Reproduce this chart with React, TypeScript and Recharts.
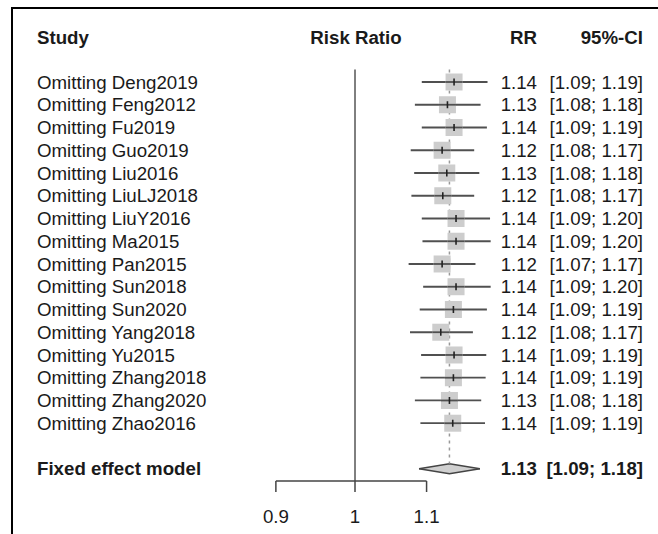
import { Area, ComposedChart, ErrorBar, ReferenceLine, Scatter, XAxis, YAxis } from "recharts";

const studies = [
  "Omitting Deng2019",
  "Omitting Feng2012",
  "Omitting Fu2019",
  "Omitting Guo2019",
  "Omitting Liu2016",
  "Omitting LiuLJ2018",
  "Omitting LiuY2016",
  "Omitting Ma2015",
  "Omitting Pan2015",
  "Omitting Sun2018",
  "Omitting Sun2020",
  "Omitting Yang2018",
  "Omitting Yu2015",
  "Omitting Zhang2018",
  "Omitting Zhang2020",
  "Omitting Zhao2016",
];
const rr = [1.141, 1.131, 1.141, 1.123, 1.13, 1.124, 1.144, 1.144, 1.123, 1.144, 1.14, 1.121, 1.141, 1.14, 1.134, 1.139];
const lower = [1.093, 1.083, 1.093, 1.077, 1.082, 1.078, 1.093, 1.094, 1.074, 1.095, 1.09, 1.076, 1.092, 1.091, 1.083, 1.091];
const upper = [1.193, 1.182, 1.192, 1.172, 1.18, 1.172, 1.197, 1.198, 1.174, 1.198, 1.192, 1.17, 1.191, 1.19, 1.183, 1.189];

const pooledLabel = "Fixed effect model";
const pooledRR = 1.134;
const pooledLower = 1.089;
const pooledUpper = 1.181;

const xTicks = [0.9, 1, 1.1];
const headers = { study: "Study", axis: "Risk Ratio", rr: "RR", ci: "95%-CI" };

// layout
const W = 658;
const H = 534;
const Y_MAX = 18.54;
const POOLED_ROW = studies.length + 2;
const DIAMOND_H = 0.22;
const REF_TOP = 0.45;
const SQ = 17;
const LABEL_X = 37;
const RR_X = 537;
const CI_X = 643;
const FONT = 18.7;
const TEXT = "#1a1a1a";
const CI_COLOR = "#505050";

const fmt = (v: number) => v.toFixed(2);

const rows = studies.map((study, i) => ({
  study,
  x: rr[i],
  y: i + 1,
  lo: lower[i],
  hi: upper[i],
  err: [rr[i] - lower[i], upper[i] - rr[i]],
}));

const pooledRow = [{ study: pooledLabel, x: pooledRR, y: POOLED_ROW, lo: pooledLower, hi: pooledUpper }];

const diamond = [
  { x: pooledLower, band: [POOLED_ROW, POOLED_ROW] },
  { x: pooledRR, band: [POOLED_ROW - DIAMOND_H, POOLED_ROW + DIAMOND_H] },
  { x: pooledUpper, band: [POOLED_ROW, POOLED_ROW] },
];

const Square = (p: any) => (
  <rect x={p.cx - SQ / 2} y={p.cy - SQ / 2} width={SQ} height={SQ} fill="#cdcdcd" />
);

const RowText = ({ cy, payload, bold }: any) => (
  <g fontSize={FONT} fill={TEXT} fontWeight={bold ? "bold" : "normal"}>
    <text x={LABEL_X} y={cy} dy="0.35em">{payload.study}</text>
    <text x={RR_X} y={cy} dy="0.35em" textAnchor="end">{fmt(payload.x)}</text>
    <text x={CI_X} y={cy} dy="0.35em" textAnchor="end">{`[${fmt(payload.lo)}; ${fmt(payload.hi)}]`}</text>
  </g>
);

// the CI line runs through the square, with a short dark tick at the estimate
const Estimate = (p: any) => (
  <g>
    <line x1={p.cx - SQ / 2} x2={p.cx + SQ / 2} y1={p.cy} y2={p.cy} stroke={CI_COLOR} strokeWidth={1.8} />
    <line x1={p.cx} x2={p.cx} y1={p.cy - 3.5} y2={p.cy + 3.5} stroke="#222" strokeWidth={1.6} />
    <RowText cy={p.cy} payload={p.payload} />
  </g>
);

const PooledText = (p: any) => <RowText cy={p.cy} payload={p.payload} bold />;

export default function App() {
  return (
    <div style={{ position: "absolute", left: 0, top: 0, width: W, height: H, overflow: "hidden", background: "#fff" }}>
      <div
        style={{
          position: "absolute",
          left: 11,
          top: 7,
          width: W - 11,
          height: H - 7,
          borderLeft: "2px solid #000",
          borderTop: "2px solid #000",
          boxSizing: "border-box",
        }}
      />
      <ComposedChart
        width={W}
        height={H}
        margin={{ top: 59.25, right: 135.42, bottom: 0, left: 232.95 }}
        style={{ fontFamily: "'Liberation Sans', Arial, sans-serif", position: "absolute", left: 0, top: 0 }}
      >
        <XAxis
          type="number"
          dataKey="x"
          scale="log"
          domain={[0.85, 1.25]}
          ticks={xTicks}
          height={53}
          axisLine={false}
          tickLine={{ stroke: "#444", strokeWidth: 1.5 }}
          tickSize={11}
          tickMargin={18}
          tick={{ fontSize: FONT, fill: TEXT }}
        />
        <YAxis type="number" dataKey="y" domain={[0, Y_MAX]} reversed hide width={0} />
        <ReferenceLine
          segment={[{ x: pooledRR, y: REF_TOP }, { x: pooledRR, y: POOLED_ROW - DIAMOND_H }]}
          stroke="#999"
          strokeWidth={1.5}
          strokeDasharray="3 4"
        />
        <ReferenceLine segment={[{ x: 1, y: REF_TOP }, { x: 1, y: Y_MAX }]} stroke="#000" strokeWidth={1} />
        <ReferenceLine
          segment={[{ x: xTicks[0], y: Y_MAX }, { x: xTicks[xTicks.length - 1], y: Y_MAX }]}
          stroke="#444"
          strokeWidth={1.5}
        />
        <Scatter data={rows} shape={Square} isAnimationActive={false} />
        <Scatter data={rows} shape={Estimate} isAnimationActive={false}>
          <ErrorBar dataKey="err" direction="x" width={0} stroke={CI_COLOR} strokeWidth={1.8} />
        </Scatter>
        <Area
          data={diamond}
          dataKey="band"
          type="linear"
          fill="#d0d0d0"
          fillOpacity={1}
          stroke="#444"
          strokeWidth={1.5}
          dot={false}
          activeDot={false}
          isAnimationActive={false}
        />
        <Scatter data={pooledRow} shape={PooledText} isAnimationActive={false} />
        <g fontSize={FONT} fill={TEXT} fontWeight="bold">
          <text x={LABEL_X} y={37} dy="0.35em">{headers.study}</text>
          <text x={356} y={37} dy="0.35em" textAnchor="middle">{headers.axis}</text>
          <text x={RR_X} y={37} dy="0.35em" textAnchor="end">{headers.rr}</text>
          <text x={CI_X} y={37} dy="0.35em" textAnchor="end">{headers.ci}</text>
        </g>
      </ComposedChart>
    </div>
  );
}
